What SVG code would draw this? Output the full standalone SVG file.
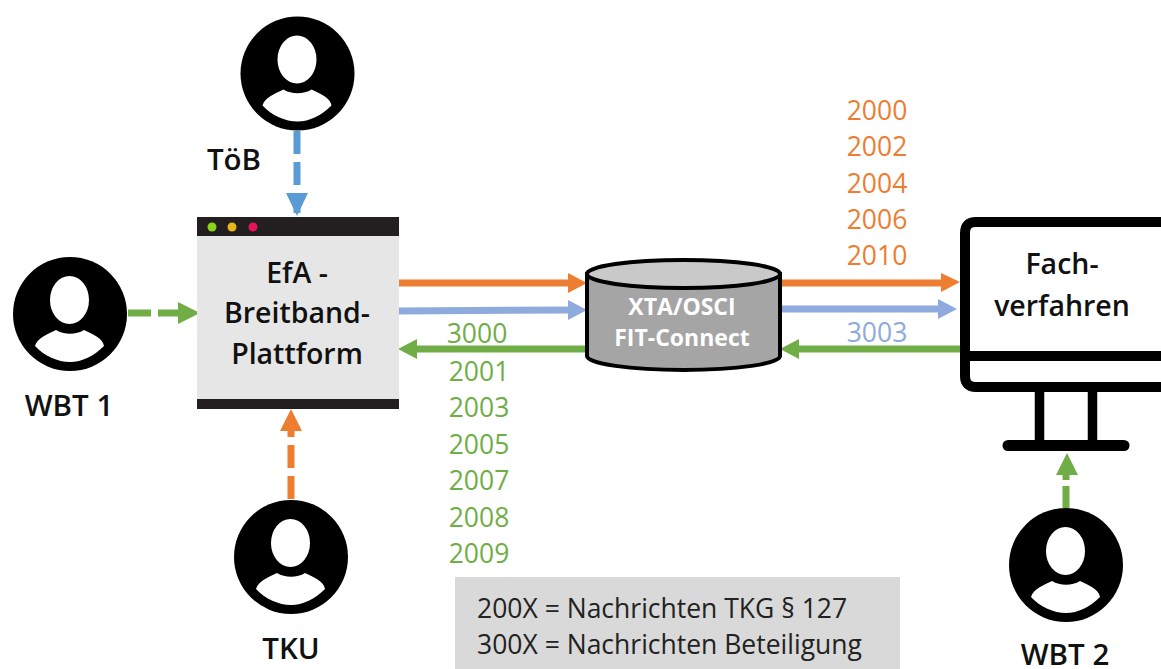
<svg xmlns="http://www.w3.org/2000/svg" width="1161" height="669" viewBox="0 0 1161 669">
<style>
text{font-family:"Open Sans","Liberation Sans",sans-serif}
.b{font-weight:600;font-size:28.5px;fill:#111;text-anchor:middle}
.p{font-weight:600;font-size:29.5px;fill:#111;text-anchor:middle}
.n{font-size:26.5px;text-anchor:middle}
.o{fill:#ED7D31}.g{fill:#70AD47}.l{fill:#8FAADC}
.w{font-weight:700;font-size:23px;fill:#fff;text-anchor:middle}
.k{font-size:26.5px;fill:#222}
.c{fill:none;stroke-width:7}
</style>
<defs>
<g id="person">
<circle r="57" fill="#000"/>
<ellipse cx="-0.5" cy="-14" rx="19.5" ry="24" fill="#fff"/>
<path d="M-35 32C-33 24-22 20-14 16C-6 21 6 21 14 16C22 20 33 24 34 32C24 42 12 48 0 48C-12 48-26 42-35 32Z" fill="#fff"/>
</g>
</defs>
<rect width="1161" height="669" fill="#fff"/>
<g id="connectors">
<path class="c" d="M297 131V213" stroke="#5B9BD5" stroke-dasharray="23 8"/><path d="M286 193H308L297 216Z" fill="#5B9BD5"/>
<path class="c" d="M128 313H190" stroke="#70AD47" stroke-dasharray="23 7"/><path d="M178 302L200 313L178 324Z" fill="#70AD47"/>
<path class="c" d="M291 499V425" stroke="#ED7D31" stroke-dasharray="23 8"/><path d="M280 431H302L291 409Z" fill="#ED7D31"/>
<path class="c" d="M1066 508V470" stroke="#70AD47" stroke-dasharray="22 6"/><path d="M1056 475H1078L1067 453Z" fill="#70AD47"/>
<path class="c" d="M398 283L570 283" stroke="#ED7D31"/><path d="M568 273L587 283L568 293Z" fill="#ED7D31"/>
<path class="c" d="M399 311L570 310" stroke="#8FAADC"/><path d="M568 300L587 310L568 320Z" fill="#8FAADC"/>
<path class="c" d="M586 349H415" stroke="#70AD47"/><path d="M417 339L398 349L417 359Z" fill="#70AD47"/>
<path class="c" d="M778 283H945" stroke="#ED7D31"/><path d="M941 273L960 282L941 292Z" fill="#ED7D31"/>
<path class="c" d="M778 309H940" stroke="#8FAADC"/><path d="M938 299L957 309L938 319Z" fill="#8FAADC"/>
<path class="c" d="M960 349H797" stroke="#70AD47"/><path d="M799 339L780 349L799 359Z" fill="#70AD47"/>
</g>
<g id="toeb"><use href="#person" x="297.5" y="73.5"/><text class="p" x="234" y="170">TöB</text></g>
<g id="wbt1"><use href="#person" x="70" y="314"/><text class="p" x="69" y="416">WBT 1</text></g>
<g id="tku"><use href="#person" x="291" y="557"/><text class="p" x="291" y="659">TKU</text></g>
<g id="wbt2"><use href="#person" x="1066" y="565"/><text class="p" x="1065" y="665">WBT 2</text></g>
<g id="platform">
<rect x="197" y="217" width="202" height="192" fill="#E7E6E6"/>
<rect x="197" y="217" width="202" height="19" fill="#231F20"/>
<rect x="197" y="399" width="202" height="10" fill="#231F20"/>
<circle cx="212" cy="227" r="4.5" fill="#8CD317"/><circle cx="232" cy="227" r="4.5" fill="#E8B51C"/><circle cx="253" cy="227" r="4.5" fill="#E6135A"/>
<text class="b" x="297" y="283">EfA -</text><text class="b" x="297" y="323">Breitband-</text><text class="b" x="297" y="364">Plattform</text>
</g>
<g id="xta">
<path d="M587 274V356A96.500 14 0 0 0 780 356V274Z" fill="#A5A5A5" stroke="#000" stroke-width="4"/>
<ellipse cx="683.500" cy="274" rx="96.500" ry="14" fill="#C9C9C9" stroke="#000" stroke-width="4"/>
<text class="w" x="682" y="315">XTA/OSCI</text><text class="w" x="682" y="346">FIT-Connect</text>
</g>
<g id="fachverfahren">
<path d="M1161 222H976Q965 222 965 233V376Q965 387 976 387H1161M965 356H1161" fill="none" stroke="#000" stroke-width="10"/>
<path d="M1039.500 387V445M1092.500 387V445" fill="none" stroke="#000" stroke-width="9.500"/>
<path d="M1008 445.500H1124" fill="none" stroke="#000" stroke-width="11" stroke-linecap="round"/>
<text class="b" x="1062" y="274">Fach-</text><text class="b" x="1062" y="316">verfahren</text>
</g>
<g id="labels">
<g class="n o"><text x="877" y="120">2000</text><text x="877" y="156">2002</text><text x="877" y="193">2004</text><text x="877" y="229">2006</text><text x="877" y="265">2010</text></g>
<text class="n l" x="877" y="342">3003</text>
<g class="n g"><text x="477" y="343">3000</text><text x="479" y="381">2001</text><text x="479" y="417">2003</text><text x="479" y="454">2005</text><text x="479" y="490">2007</text><text x="479" y="527">2008</text><text x="479" y="563">2009</text></g>
</g>
<g id="legend">
<rect x="455" y="577" width="445" height="92" fill="#D9D9D9"/>
<text class="k" x="477" y="618">200X = Nachrichten TKG § 127</text>
<text class="k" x="477" y="654">300X = Nachrichten Beteiligung</text>
</g>
</svg>
